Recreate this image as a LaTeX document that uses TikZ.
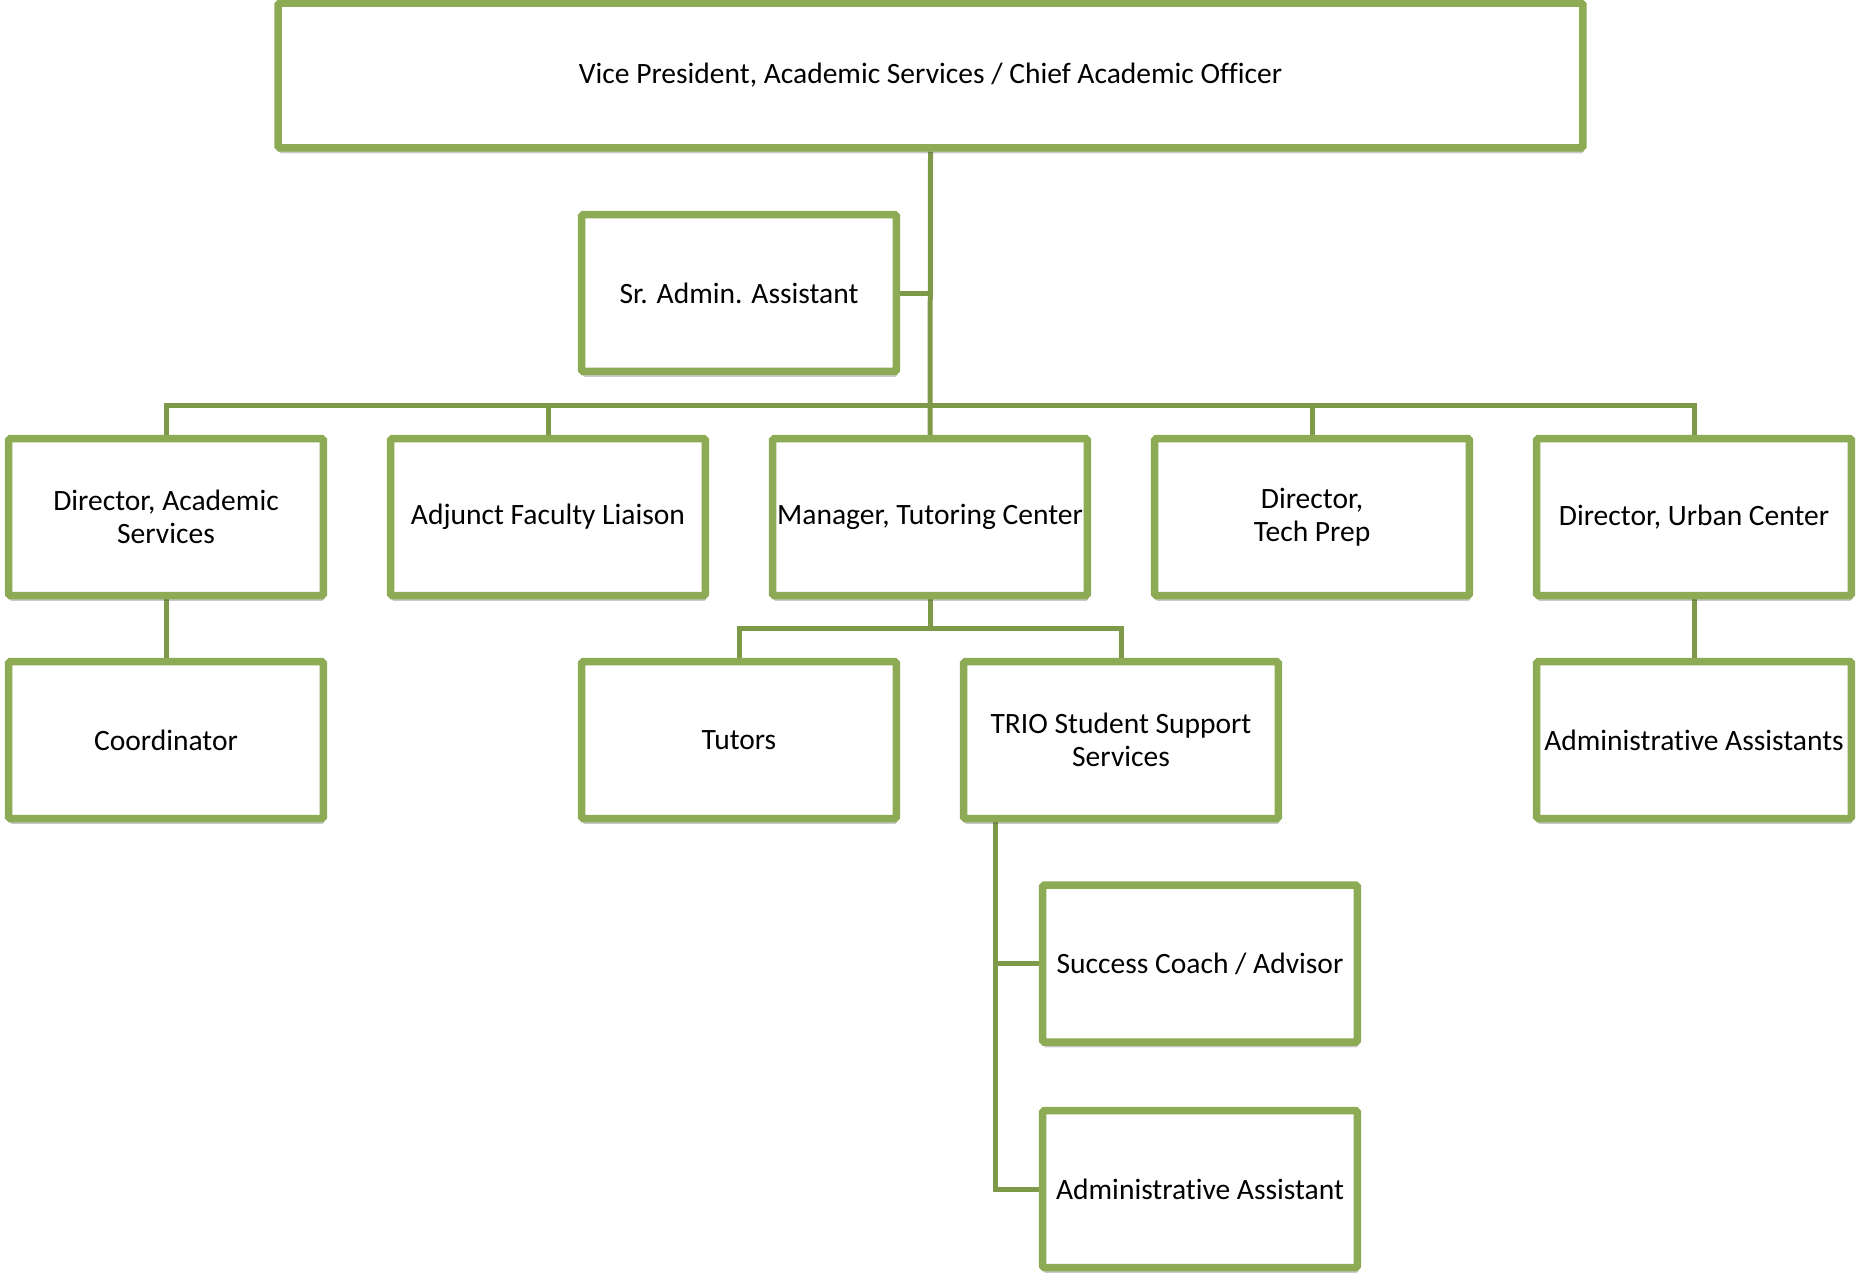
\documentclass[tikz,border=0pt]{standalone}
\usepackage{fontspec}
\setmainfont{Carlito}[Ligatures=CommonOff]
\usepackage{xcolor}
\usepackage{tikz}
\usetikzlibrary{positioning,backgrounds,shadows,calc}
\definecolor{cBox}{RGB}{141,170,84}
\definecolor{cLine}{RGB}{126,153,72}

\begin{document}
\begin{tikzpicture}[x=0.02cm,y=-0.02cm,font=\fontsize{16.8}{19}\selectfont]
\tikzset{
  box/.style={draw=cBox,line width=0.15cm,fill=white,rounded corners=1pt,minimum width=6.3cm,minimum height=3.14cm,align=center,inner sep=1pt,
    drop shadow={shadow xshift=0.5pt,shadow yshift=-3pt,opacity=0.3,fill=black!70}},
  ln/.style={draw=cLine,line width=0.1cm}
}
\useasboundingbox (0,0) rectangle (1859,1276);
% top
\node[box,minimum width=26.1cm,minimum height=2.9cm] (vp) at (930.5,75.5) {Vice President, Academic Services / Chief Academic Officer};
\node[box] (sra) at (739,293) {Sr. Admin. Assistant};
% second row
\node[box] (dacad) at (166,517) {Director, Academic\\Services};
\node[box] (adj) at (548,517) {Adjunct Faculty Liaison};
\node[box] (mgr) at (930,517) {Manager, Tutoring Center};
\node[box] (tech) at (1312,517) {Director,\\Tech Prep};
\node[box] (urban) at (1694,517) {Director, Urban Center};
% third row
\node[box] (coord) at (166,740) {Coordinator};
\node[box] (tutors) at (739,740) {Tutors};
\node[box] (trio) at (1121,740) {TRIO Student Support\\Services};
\node[box] (aas) at (1694,740) {Administrative Assistants};
% trio staff
\node[box] (coach) at (1200,963.5) {Success Coach / Advisor};
\node[box] (aa) at (1200,1189) {Administrative Assistant};

\begin{scope}[on background layer]
\coordinate (bus) at (930,405);
\coordinate (tbus) at (930,628);
\coordinate (tl) at ([xshift=0.72cm]trio.south west);
\draw[ln] (vp.south) -- (mgr.north);
\draw[ln] (sra.east) -- (sra.east -| vp.south);
\draw[ln] (dacad.north) |- (bus) -| (urban.north);
\draw[ln] (adj.north) -- (adj.north |- bus);
\draw[ln] (tech.north) -- (tech.north |- bus);
\draw[ln] (dacad.south) -- (coord.north);
\draw[ln] (urban.south) -- (aas.north);
\draw[ln] (mgr.south) -- (tbus);
\draw[ln] (tutors.north) |- (tbus) -| (trio.north);
\draw[ln] (tl) |- (coach.west);
\draw[ln] (tl) |- (aa.west);
\end{scope}
\end{tikzpicture}
\end{document}
